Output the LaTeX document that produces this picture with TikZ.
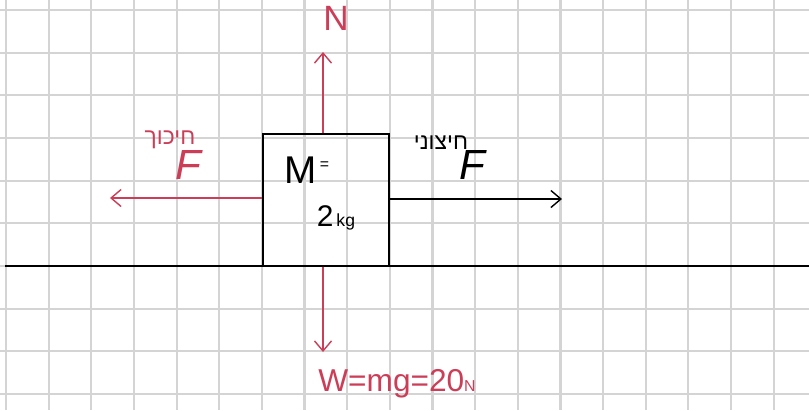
\documentclass[tikz,border=0pt]{standalone}
\usepackage{fontspec}
\setmainfont{Liberation Sans}
\newfontfamily\hebfont[Script=Hebrew]{Liberation Sans}
\TeXXeTstate=1
\usepackage{tikz}
\usetikzlibrary{arrows.meta}
\definecolor{InkRed}{RGB}{204,62,88}
\definecolor{GridGray}{RGB}{212,212,212}
\tikzset{
	>={Straight Barb[length=2mm,width=3.4mm]},
	gridline/.style={GridGray, line width=1.2pt},
	block/.style={draw=black, line width=1pt, minimum width=2.52cm, minimum height=2.64cm, inner sep=0pt},
	ground/.style={black, line width=0.9pt},
	force/.style={InkRed, line width=0.8pt, ->},
	pushforce/.style={black, line width=0.8pt, ->},
	redtext/.style={InkRed, inner sep=0pt},
	inktext/.style={black, inner sep=0pt},
}

\begin{document}
\begin{tikzpicture}[x=0.02cm, y=-0.02cm]
	\useasboundingbox (0,0) rectangle (809,410);
	% grid paper
	\foreach \k in {0,...,18}{
		\draw[gridline] ({6+42.65*\k},0) -- ({6+42.65*\k},410);
	}
	\foreach \k in {0,...,9}{
		\draw[gridline] (0,{10+42.65*\k}) -- (809,{10+42.65*\k});
	}
	
	% floor
	\coordinate (groundL) at (5,266);
	\coordinate (groundR) at (809,266);
	\draw[ground] (groundL) -- (groundR);
	
	% the block
	\node[block] (box) at (326,200) {};
	
	% forces
	\coordinate (Ntip) at (323,52);
	\coordinate (Wtip) at (323,352);
	\coordinate (Ftip) at (110,198);
	\coordinate (Ptip) at (562,199);
	\draw[force] (box.north -| Ntip) -- (Ntip);
	\draw[force] (box.south -| Wtip) -- (Wtip);
	\draw[force] (box.west |- Ftip) -- (Ftip);
	\draw[pushforce] (box.east |- Ptip) -- (Ptip);
	
	% labels
	\node[redtext, font=\fontsize{20}{22}\selectfont] (Nlabel) at (336,18) {N};
	\node[redtext, font=\fontsize{18}{20}\selectfont] (Wlabel) at (397,384) {W=mg=20{\small N}};
	\node[inktext] (mass) at (307,170) {{\fontsize{22}{24}\selectfont M}\,\raisebox{1.5ex}{\small=}};
	\node[inktext] (kg) at (336,218) {{\fontsize{17}{19}\selectfont 2}\,{\normalsize kg}};
	\node[redtext, font=\fontsize{24}{26}\selectfont\itshape] (Ffric) at (188,165) {F};
	\node[redtext, font=\hebfont\fontsize{13}{15}\selectfont] (fric) at (170,140) {\beginR חיכוך\endR};
	\node[inktext, font=\fontsize{24}{26}\selectfont\itshape] (Fpush) at (472,165) {F};
	\node[inktext, font=\hebfont\fontsize{13}{15}\selectfont] (push) at (441,143) {\beginR חיצוני\endR};
\end{tikzpicture}
\end{document}
